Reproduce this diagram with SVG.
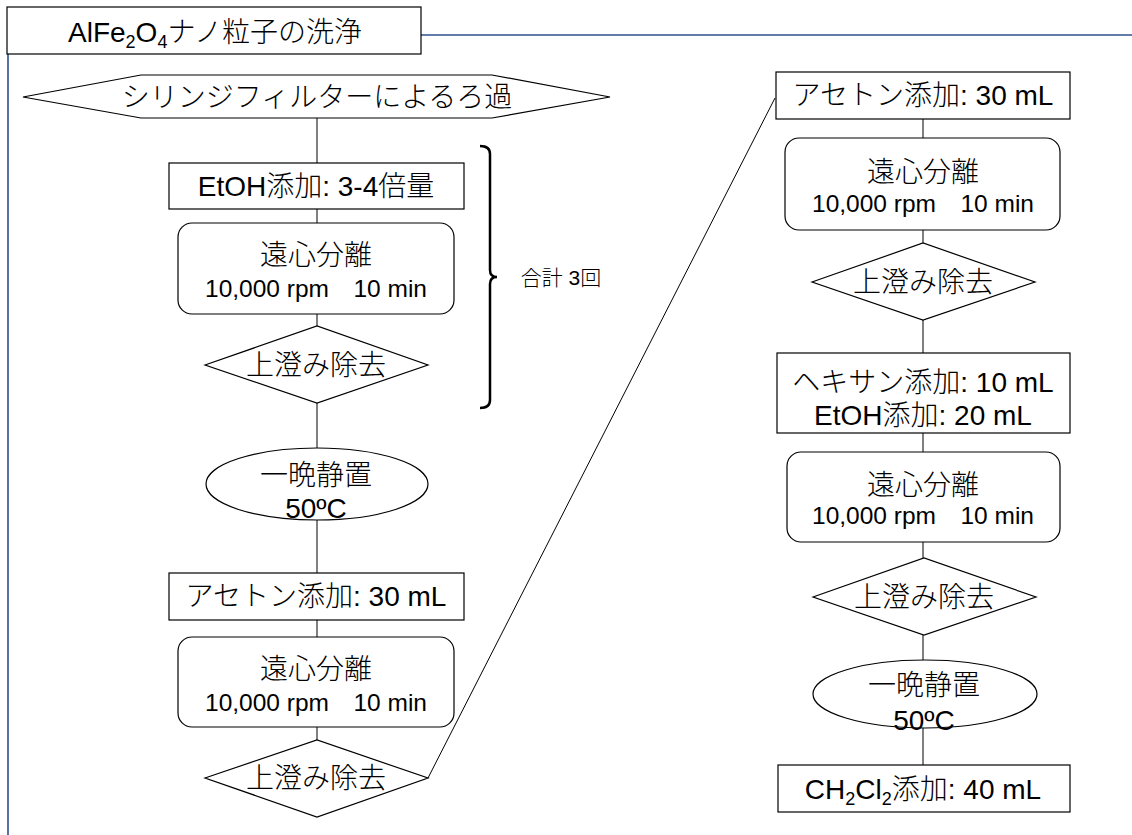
<svg xmlns="http://www.w3.org/2000/svg" width="1132" height="835" viewBox="0 0 1132 835">
<style>
.n{fill:#fff;stroke:#000;stroke-width:1.2}
.t{font-family:"Liberation Sans","Noto Sans CJK JP",sans-serif;font-size:28px;font-weight:300;fill:#000;text-anchor:middle}
.s{font-size:24.5px}
.c{stroke:#000;stroke-width:1;fill:none}
.f{stroke:#2F528F;stroke-width:1.6;fill:none}
</style>
<rect width="1132" height="835" fill="#fff"/>
<g id="frame">
<path class="f" d="M421,35H1132M8,54V835"/>
</g>
<g id="title">
<rect class="n" x="7" y="7" width="414" height="47"/>
<text class="t" x="215" y="42">AlFe<tspan dy="6" font-size="18">2</tspan><tspan dy="-6">O</tspan><tspan dy="6" font-size="18">4</tspan><tspan dy="-6">ナノ粒子の洗浄</tspan></text>
</g>
<g id="connectors">
<path class="c" d="M317,118V163M317,209V223M317,314V326M317,403V448M317,520V573M317,620V637M317,727V740M428,778L775,98"/>
<path class="c" d="M923,119V138M923,230V243M923,320V353M923,433V452M923,542V558M923,635V660M923,728V765"/>
</g>
<g id="filter">
<polygon class="n" points="23,97 141,75 492,75 610,97 492,118 141,118"/>
<text class="t" x="317" y="107">シリンジフィルターによるろ過</text>
</g>
<g id="etoh">
<rect class="n" x="169" y="163" width="295" height="46"/>
<text class="t" x="316" y="196">EtOH添加: 3-4倍量</text>
</g>
<g id="cent1">
<rect class="n" x="178" y="223" width="276" height="91" rx="14"/>
<text class="t" x="316" y="265">遠心分離</text>
<text class="t s" x="316" y="297" xml:space="preserve">10,000 rpm　10 min</text>
</g>
<g id="sup1">
<polygon class="n" points="205,365 317,326 428,365 317,403"/>
<text class="t" x="316" y="375">上澄み除去</text>
</g>
<g id="loop">
<path d="M480,146Q490,146 490,154V270Q490,277 497,277Q490,277 490,284V400Q490,408 480,408" fill="none" stroke="#000" stroke-width="2.5"/>
<text class="t" x="561" y="285" style="font-size:21px">合計 3回</text>
</g>
<g id="dry1">
<ellipse class="n" cx="317" cy="484" rx="111" ry="36"/>
<text class="t" x="316" y="485">一晩静置</text>
<text class="t" x="316" y="518">50ºC</text>
</g>
<g id="acetone1">
<rect class="n" x="169" y="573" width="295" height="47"/>
<text class="t" x="316" y="606">アセトン添加: 30 mL</text>
</g>
<g id="cent2">
<rect class="n" x="178" y="637" width="276" height="90" rx="14"/>
<text class="t" x="316" y="679">遠心分離</text>
<text class="t s" x="316" y="711" xml:space="preserve">10,000 rpm　10 min</text>
</g>
<g id="sup2">
<polygon class="n" points="205,778 317,740 428,778 317,817"/>
<text class="t" x="316" y="788">上澄み除去</text>
</g>
<g id="acetone2">
<rect class="n" x="776" y="72" width="294" height="47"/>
<text class="t" x="923" y="105">アセトン添加: 30 mL</text>
</g>
<g id="cent3">
<rect class="n" x="785" y="138" width="275" height="92" rx="14"/>
<text class="t" x="923" y="182">遠心分離</text>
<text class="t s" x="923" y="212" xml:space="preserve">10,000 rpm　10 min</text>
</g>
<g id="sup3">
<polygon class="n" points="812,282 923,243 1035,282 923,320"/>
<text class="t" x="923" y="292">上澄み除去</text>
</g>
<g id="hexane">
<rect class="n" x="777" y="353" width="293" height="80"/>
<text class="t" x="923" y="392">ヘキサン添加: 10 mL</text>
<text class="t" x="923" y="425">EtOH添加: 20 mL</text>
</g>
<g id="cent4">
<rect class="n" x="787" y="452" width="273" height="90" rx="14"/>
<text class="t" x="923" y="495">遠心分離</text>
<text class="t s" x="923" y="524" xml:space="preserve">10,000 rpm　10 min</text>
</g>
<g id="sup4">
<polygon class="n" points="813,597 924,558 1036,597 924,635"/>
<text class="t" x="924" y="607">上澄み除去</text>
</g>
<g id="dry2">
<ellipse class="n" cx="925" cy="694" rx="112" ry="34"/>
<text class="t" x="924" y="695">一晩静置</text>
<text class="t" x="924" y="730">50ºC</text>
</g>
<g id="dcm">
<rect class="n" x="778" y="765" width="292" height="47"/>
<text class="t" x="923" y="799">CH<tspan dy="6" font-size="18">2</tspan><tspan dy="-6">Cl</tspan><tspan dy="6" font-size="18">2</tspan><tspan dy="-6">添加: 40 mL</tspan></text>
</g>
</svg>
